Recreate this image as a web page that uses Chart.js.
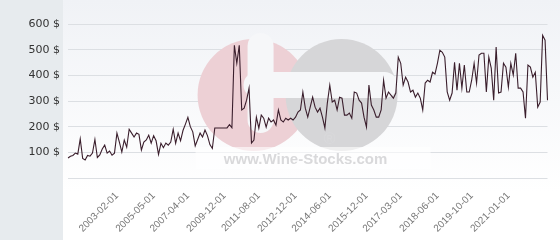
<!DOCTYPE html>
<html>
<head>
<meta charset="utf-8">
<script src="https://cdn.jsdelivr.net/npm/chart.js@4.4.0/dist/chart.umd.min.js"></script>
<style>
  html, body { margin: 0; padding: 0; }
  body {
    width: 560px; height: 240px; overflow: hidden;
    background:
      linear-gradient(to right, #e7ebee 0, #e7ebee 63px, transparent 63px),
      linear-gradient(#f0f2f6, #ffffff 80%);
  }
  #wrap { position: relative; width: 560px; height: 240px; }
</style>
</head>
<body>
<div id="wrap"><canvas id="priceChart" width="560" height="240"></canvas></div>
<script>
// prix, en $
const prices = [
  78, 85, 88, 97, 93, 152, 76, 70, 88, 85, 97, 150, 80, 90, 113, 128, 97, 105, 89, 97,
  175, 140, 101, 148, 120, 190, 175, 160, 175, 170, 109, 140, 148, 167,
  136, 165, 145, 92, 135, 118, 136, 128, 140, 190, 135, 175, 145, 185, 210, 236,
  200, 180, 125, 150, 175, 160, 187, 165, 130, 115, 195, 195, 195, 195, 195, 195, 208, 196,
  517, 447, 517, 265, 272, 303, 350, 136, 148, 237, 194, 245, 233, 198, 233, 218, 226,
  206, 265, 226, 218, 233, 226, 233, 226, 237, 257, 265, 335, 272, 237, 276, 315, 276,
  257, 272, 237, 195, 292, 362, 296, 303, 265, 315, 311, 245, 245, 253, 233, 335, 331,
  303, 292, 237, 198, 362, 284, 265, 237, 237, 265, 381, 311, 335, 323, 311, 331, 471,
  447, 362, 393, 374, 335, 342, 315, 331, 311, 265, 370, 381, 374, 412, 405, 447, 498,
  490, 471, 335, 303, 331, 451, 342, 447, 350, 440, 335, 335, 381, 447, 370, 479,
  486, 486, 335, 471, 428, 303, 510, 331, 335, 447, 432, 354, 447, 401, 486, 350, 350,
  335, 233, 440, 432, 393, 412, 276, 296, 556, 537, 303
];

// dates affichées sous l'axe
const tickLabels = [
  "2003-02-01", "2005-05-01", "2007-04-01", "2009-12-01", "2011-08-01", "2012-12-01",
  "2014-06-01", "2015-12-01", "2017-03-01", "2018-06-01", "2019-10-01", "2021-01-01"
];
const firstTick = 20;
const tickStep = 14.5;

const yTicks = [0, 100, 200, 300, 400, 500, 600];

// une étiquette par point, vide sauf aux dates affichées
const labels = prices.map(() => "");
tickLabels.forEach((d, k) => {
  labels[Math.round(firstTick + k * tickStep)] = d;
});

// filigrane en fond de graphique
const watermark = {
  id: "watermark",
  beforeDatasetsDraw(chart) {
    const { ctx, chartArea: a } = chart;
    const cx = a.left + (a.right - a.left) * 0.387;
    const cy = a.top + 71;
    const r = 56;
    ctx.save();
    // cercle rose
    ctx.fillStyle = "#edd0d5";
    ctx.beginPath();
    ctx.arc(cx, cy, r, 0, Math.PI * 2);
    ctx.fill();
    // cercle gris
    ctx.fillStyle = "#d6d6d8";
    ctx.beginPath();
    ctx.arc(cx + 88, cy, r, 0, Math.PI * 2);
    ctx.fill();
    // barres blanches
    ctx.fillStyle = "#f6f7f9";
    ctx.beginPath();
    ctx.roundRect(cx - 6, cy - 62, 26, 100, 13);
    ctx.fill();
    ctx.beginPath();
    ctx.roundRect(cx - 10, cy - 23, 154, 26, 13);
    ctx.fill();
    // texte
    ctx.fillStyle = "rgba(255,255,255,0.6)";
    ctx.fillRect(cx - 58, cy + 52, 235, 22);
    ctx.fillStyle = "#d9d9db";
    ctx.font = "bold 15px 'Liberation Sans', Arial, sans-serif";
    ctx.textAlign = "center";
    ctx.textBaseline = "middle";
    ctx.fillText("www.Wine-Stocks.com", cx + 52, cy + 65);
    ctx.font = "16px 'Liberation Sans', Arial, sans-serif";
    ctx.fillText("\u00AE", cx + 76, cy + 45);
    ctx.restore();
  },
};

const ctx = document.getElementById("priceChart").getContext("2d");
new Chart(ctx, {
  type: "line",
  data: {
    labels: labels,
    datasets: [
      {
        data: prices,
        borderColor: "#3a1e2c",
        borderWidth: 1.1,
        pointRadius: 0,
        tension: 0,
        fill: false,
      },
    ],
  },
  options: {
    responsive: false,
    animation: false,
    layout: { padding: { top: 24, right: 5, left: 0, bottom: 0 } },
    plugins: {
      legend: { display: false },
      tooltip: { enabled: false },
    },
    scales: {
      x: {
        type: "category",
        grid: { display: false },
        border: { display: false },
        ticks: {
          autoSkip: false,
          minRotation: 45,
          maxRotation: 45,
          padding: 4,
          color: "#777",
          font: { family: "'Liberation Sans', Arial, sans-serif", size: 10 },
        },
        afterFit(scale) {
          scale.height = 62;
        },
      },
      y: {
        min: 0,
        max: 600,
        afterBuildTicks(scale) {
          scale.ticks = yTicks.map((v) => ({ value: v }));
        },
        grid: { color: "#dcdfe3", drawTicks: false },
        border: { display: false },
        ticks: {
          autoSkip: false,
          padding: 8,
          color: "#333",
          font: { family: "'DejaVu Sans', sans-serif", size: 11 },
          callback: (v) => (v === 0 ? "" : v + " $"),
        },
        afterFit(scale) {
          scale.width = 68;
        },
      },
    },
  },
  plugins: [watermark],
});
</script>
</body>
</html>
